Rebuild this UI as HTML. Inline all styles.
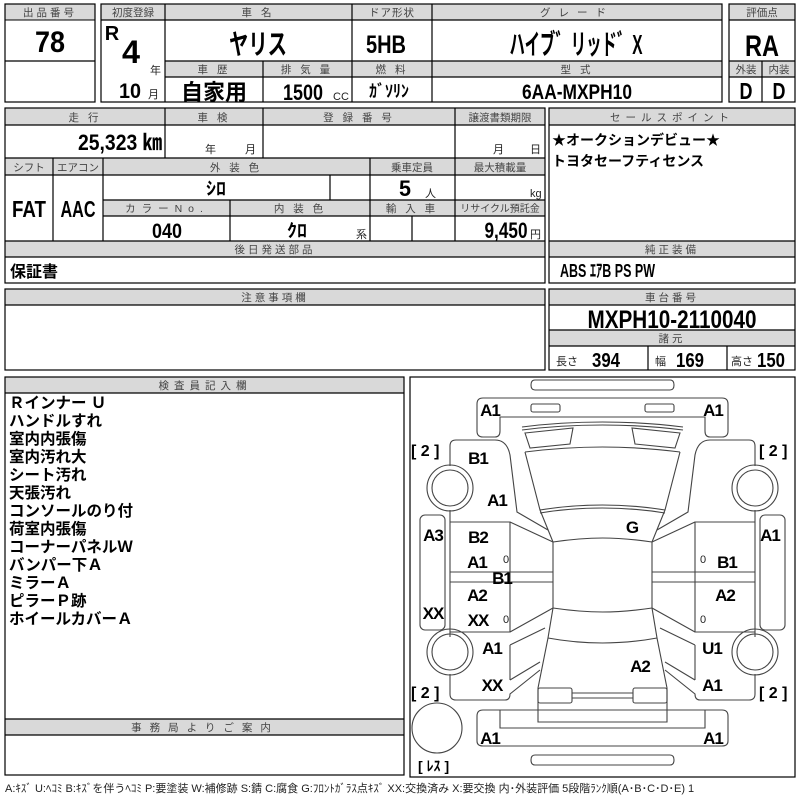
<!DOCTYPE html>
<html><head><meta charset="utf-8">
<style>
html,body{margin:0;padding:0;background:#fff;}
svg{display:block;}
.h{fill:#d9d9d9;stroke:#000;stroke-width:1}
.b{fill:none;stroke:#000;stroke-width:1.2}
.ht{font-family:"Liberation Sans","Noto Sans CJK JP",sans-serif;font-size:10.5px;fill:#444;text-anchor:middle;letter-spacing:3px}
.v{font-family:"Liberation Sans","Noto Sans CJK JP",sans-serif;font-weight:bold;fill:#000;text-anchor:middle}
.j{font-family:"Liberation Sans","Noto Sans CJK JP",sans-serif;font-weight:bold;fill:#000}
.s{font-family:"Liberation Sans","Noto Sans CJK JP",sans-serif;font-size:11px;fill:#222}
.d{fill:none;stroke:#444;stroke-width:1.1}
.lb{font-family:"Liberation Sans","Noto Sans CJK JP",sans-serif;font-weight:bold;font-size:17px;fill:#000;text-anchor:middle;letter-spacing:-1px}
</style></head><body>
<svg width="800" height="800" viewBox="0 0 800 800" xmlns="http://www.w3.org/2000/svg">
<!-- 出品番号 -->
<rect class="h" x="5" y="4" width="90" height="16"/>
<text class="ht" x="50" y="16">出品番号</text>
<rect class="b" x="5" y="4" width="90" height="98"/>
<line class="b" x1="5" y1="61" x2="95" y2="61"/>
<text class="v" x="50" y="52" font-size="30" textLength="30" lengthAdjust="spacingAndGlyphs">78</text>

<!-- main top box -->
<rect class="h" x="101" y="4" width="621" height="16"/>
<rect class="h" x="165" y="61" width="557" height="16"/>
<rect class="b" x="101" y="4" width="621" height="98"/>
<line class="b" x1="165" y1="4" x2="165" y2="102"/>
<line class="b" x1="352" y1="4" x2="352" y2="102"/>
<line class="b" x1="432" y1="4" x2="432" y2="102"/>
<line class="b" x1="263" y1="61" x2="263" y2="102"/>
<line class="b" x1="165" y1="61" x2="722" y2="61"/>
<line class="b" x1="165" y1="77" x2="722" y2="77"/>
<line class="b" x1="101" y1="20" x2="722" y2="20"/>
<text class="ht" x="133" y="16" style="letter-spacing:0">初度登録</text>
<text class="ht" x="258" y="16">車 名</text>
<text class="ht" x="392" y="16" style="letter-spacing:1px">ドア形状</text>
<text class="ht" x="577" y="16" style="letter-spacing:8px">グレード</text>
<text class="ht" x="214" y="73">車 歴</text>
<text class="ht" x="307" y="73">排 気 量</text>
<text class="ht" x="392" y="73">燃 料</text>
<text class="ht" x="577" y="73">型 式</text>
<text class="v" x="112" y="40" font-size="20">R</text>
<text class="v" x="131" y="63" font-size="32" textLength="18" lengthAdjust="spacingAndGlyphs">4</text>
<text class="s" x="150" y="74">年</text>
<text class="v" x="130" y="98" font-size="21" textLength="22" lengthAdjust="spacingAndGlyphs">10</text>
<text class="s" x="148" y="98">月</text>
<text class="v" x="258" y="54" font-size="28" textLength="58" lengthAdjust="spacingAndGlyphs">ヤリス</text>
<text class="v" x="386" y="53" font-size="25" textLength="40" lengthAdjust="spacingAndGlyphs">5HB</text>
<text class="v" x="576" y="54" font-size="28" textLength="133" lengthAdjust="spacingAndGlyphs">ハイブ゛リッド゛X</text>
<text class="j" x="214" y="100" font-size="22" style="text-anchor:middle">自家用</text>
<text class="v" x="303" y="100" font-size="22" textLength="40" lengthAdjust="spacingAndGlyphs">1500</text>
<text class="s" x="333" y="100">CC</text>
<text class="v" x="389" y="97" font-size="17" textLength="40" lengthAdjust="spacingAndGlyphs">ｶﾞｿﾘﾝ</text>
<text class="v" x="577" y="99" font-size="21" textLength="110" lengthAdjust="spacingAndGlyphs">6AA-MXPH10</text>

<!-- 評価点 -->
<rect class="h" x="729" y="4" width="66" height="16"/>
<rect class="h" x="729" y="61" width="66" height="16"/>
<rect class="b" x="729" y="4" width="66" height="98"/>
<line class="b" x1="729" y1="20" x2="795" y2="20"/>
<line class="b" x1="729" y1="61" x2="795" y2="61"/>
<line class="b" x1="729" y1="77" x2="795" y2="77"/>
<line class="b" x1="762" y1="61" x2="762" y2="102"/>
<text class="ht" x="762" y="16" style="letter-spacing:0">評価点</text>
<text class="v" x="762" y="56" font-size="30" textLength="34" lengthAdjust="spacingAndGlyphs">RA</text>
<text class="ht" x="746" y="73" style="letter-spacing:0">外装</text>
<text class="ht" x="779" y="73" style="letter-spacing:0">内装</text>
<text class="v" x="746" y="99" font-size="23" textLength="13" lengthAdjust="spacingAndGlyphs">D</text>
<text class="v" x="779" y="99" font-size="23" textLength="13" lengthAdjust="spacingAndGlyphs">D</text>

<!-- row 2 -->
<rect class="h" x="5" y="108" width="540" height="17"/>
<rect class="h" x="5" y="158" width="540" height="17"/>
<rect class="h" x="103" y="200" width="442" height="16"/>
<rect class="h" x="5" y="241" width="540" height="16"/>
<rect class="b" x="5" y="108" width="540" height="175"/>
<line class="b" x1="5" y1="125" x2="545" y2="125"/>
<line class="b" x1="5" y1="158" x2="545" y2="158"/>
<line class="b" x1="5" y1="175" x2="545" y2="175"/>
<line class="b" x1="103" y1="200" x2="545" y2="200"/>
<line class="b" x1="103" y1="216" x2="545" y2="216"/>
<line class="b" x1="5" y1="241" x2="545" y2="241"/>
<line class="b" x1="5" y1="257" x2="545" y2="257"/>
<line class="b" x1="165" y1="108" x2="165" y2="158"/>
<line class="b" x1="263" y1="108" x2="263" y2="158"/>
<line class="b" x1="455" y1="108" x2="455" y2="241"/>
<line class="b" x1="53" y1="158" x2="53" y2="241"/>
<line class="b" x1="103" y1="158" x2="103" y2="241"/>
<line class="b" x1="370" y1="158" x2="370" y2="241"/>
<line class="b" x1="330" y1="175" x2="330" y2="200"/>
<line class="b" x1="230" y1="200" x2="230" y2="241"/>
<line class="b" x1="412" y1="216" x2="412" y2="241"/>
<text class="ht" x="85" y="121">走 行</text>
<text class="ht" x="214" y="121">車 検</text>
<text class="ht" x="359" y="121">登 録 番 号</text>
<text class="ht" x="500" y="121" style="letter-spacing:0">譲渡書類期限</text>
<text class="v" x="120" y="150" font-size="22" textLength="84" lengthAdjust="spacingAndGlyphs">25,323 ㎞</text>
<text class="s" x="205" y="153">年</text>
<text class="s" x="245" y="153">月</text>
<text class="s" x="493" y="153">月</text>
<text class="s" x="530" y="153">日</text>
<text class="ht" x="29" y="171" style="letter-spacing:0">シフト</text>
<text class="ht" x="78" y="171" style="letter-spacing:0">エアコン</text>
<text class="ht" x="236" y="171">外 装 色</text>
<text class="ht" x="412" y="171" style="letter-spacing:0">乗車定員</text>
<text class="ht" x="500" y="171" style="letter-spacing:0">最大積載量</text>
<text class="v" x="29" y="217" font-size="23" textLength="34" lengthAdjust="spacingAndGlyphs">FAT</text>
<text class="v" x="78" y="217" font-size="23" textLength="35" lengthAdjust="spacingAndGlyphs">AAC</text>
<text class="v" x="216" y="195" font-size="18" textLength="20" lengthAdjust="spacingAndGlyphs">ｼﾛ</text>
<text class="v" x="405" y="196" font-size="22" textLength="12" lengthAdjust="spacingAndGlyphs">5</text>
<text class="s" x="425" y="197">人</text>
<text class="s" x="530" y="197">kg</text>
<text class="ht" x="167" y="212" style="letter-spacing:6px">カラーNo.</text>
<text class="ht" x="300" y="212">内 装 色</text>
<text class="ht" x="412" y="212">輸 入 車</text>
<text class="ht" x="500" y="212" style="letter-spacing:0;font-size:10px">リサイクル預託金</text>
<text class="v" x="167" y="238" font-size="21" textLength="30" lengthAdjust="spacingAndGlyphs">040</text>
<text class="v" x="297" y="237" font-size="18" textLength="20" lengthAdjust="spacingAndGlyphs">ｸﾛ</text>
<text class="s" x="356" y="238">系</text>
<text class="v" x="506" y="238" font-size="22" textLength="43" lengthAdjust="spacingAndGlyphs">9,450</text>
<text class="s" x="530" y="238">円</text>
<text class="ht" x="275" y="253">後日発送部品</text>
<text class="j" x="10" y="277" font-size="16">保証書</text>

<!-- sales point -->
<rect class="h" x="549" y="108" width="246" height="17"/>
<rect class="h" x="549" y="241" width="246" height="16"/>
<rect class="b" x="549" y="108" width="246" height="175"/>
<line class="b" x1="549" y1="125" x2="795" y2="125"/>
<line class="b" x1="549" y1="241" x2="795" y2="241"/>
<line class="b" x1="549" y1="257" x2="795" y2="257"/>
<text class="ht" x="672" y="121" style="letter-spacing:5px">セールスポイント</text>
<text class="j" x="552" y="145" font-size="14">★オークションデビュー★</text>
<text class="j" x="552" y="166" font-size="14">トヨタセーフティセンス</text>
<text class="ht" x="672" y="253">純正装備</text>
<text class="v" x="560" y="277" font-size="18" style="text-anchor:start" textLength="95" lengthAdjust="spacingAndGlyphs">ABS ｴｱB PS PW</text>

<!-- 注意事項 -->
<rect class="h" x="5" y="289" width="540" height="16"/>
<rect class="b" x="5" y="289" width="540" height="81"/>
<line class="b" x1="5" y1="305" x2="545" y2="305"/>
<text class="ht" x="275" y="301">注意事項欄</text>

<!-- 車台番号 -->
<rect class="h" x="549" y="289" width="246" height="16"/>
<rect class="h" x="549" y="330" width="246" height="16"/>
<rect class="b" x="549" y="289" width="246" height="81"/>
<line class="b" x1="549" y1="305" x2="795" y2="305"/>
<line class="b" x1="549" y1="330" x2="795" y2="330"/>
<line class="b" x1="549" y1="346" x2="795" y2="346"/>
<line class="b" x1="648" y1="346" x2="648" y2="370"/>
<line class="b" x1="727" y1="346" x2="727" y2="370"/>
<text class="ht" x="672" y="301">車台番号</text>
<text class="v" x="672" y="328" font-size="25" textLength="169" lengthAdjust="spacingAndGlyphs">MXPH10-2110040</text>
<text class="ht" x="672" y="342">諸元</text>
<text class="s" x="556" y="365">長さ</text><text class="v" x="606" y="367" font-size="20" textLength="28" lengthAdjust="spacingAndGlyphs">394</text>
<text class="s" x="655" y="365">幅</text><text class="v" x="690" y="367" font-size="20" textLength="28" lengthAdjust="spacingAndGlyphs">169</text>
<text class="s" x="731" y="365">高さ</text><text class="v" x="771" y="367" font-size="20" textLength="28" lengthAdjust="spacingAndGlyphs">150</text>

<!-- 検査員記入欄 -->
<rect class="h" x="5" y="377" width="399" height="16"/>
<rect class="h" x="5" y="719" width="399" height="16"/>
<rect class="b" x="5" y="377" width="399" height="398"/>
<line class="b" x1="5" y1="393" x2="404" y2="393"/>
<line class="b" x1="5" y1="719" x2="404" y2="719"/>
<line class="b" x1="5" y1="735" x2="404" y2="735"/>
<text class="ht" x="205" y="389" style="letter-spacing:5px">検査員記入欄</text>
<text class="ht" x="205" y="731" style="letter-spacing:8px">事務局よりご案内</text>
<g class="j" font-size="15.5">
<text x="9" y="408">Ｒインナー Ｕ</text>
<text x="9" y="426">ハンドルすれ</text>
<text x="9" y="444">室内内張傷</text>
<text x="9" y="462">室内汚れ大</text>
<text x="9" y="480">シート汚れ</text>
<text x="9" y="498">天張汚れ</text>
<text x="9" y="516">コンソールのり付</text>
<text x="9" y="534">荷室内張傷</text>
<text x="9" y="552">コーナーパネルＷ</text>
<text x="9" y="570">バンパー下Ａ</text>
<text x="9" y="588">ミラーＡ</text>
<text x="9" y="606">ピラーＰ跡</text>
<text x="9" y="624">ホイールカバーＡ</text>
</g>

<!-- diagram -->
<rect class="b" x="410" y="377" width="385" height="400"/>
<g id="half">
<path class="d" d="M603 380 H535 Q531 380 531 385 Q531 390 535 390 H603"/>
<path class="d" d="M603 398 H483 Q477 398 477 404 V431 Q477 437 483 437 H495 Q500 437 500 431 V417 H603"/>
<rect class="d" x="531" y="404" width="29" height="8" rx="2"/>
<path class="d" d="M522 427 Q560 422 603 422 M522 430 Q560 425 603 425"/>
<path class="d" d="M525 433 L573 428 L570 444 L530 448 Z"/>
<path class="d" d="M525 452 Q565 447 603 447 M525 452 L540 510 Q570 505 603 505 M540 513 Q570 508 603 508 M540 510 L553 542 Q580 538 603 538"/>
<path class="d" d="M553 542 V608 Q580 612 603 612 M553 608 L548 638 Q575 643 603 643 M548 638 L538 688 V722 H603"/>
<rect class="d" x="538" y="688" width="34" height="15" rx="2"/>
<path class="d" d="M572 693 H603 M572 698 H603"/>
<path class="d" d="M450 466 V446 Q450 440 456 440 H495 Q507 440 510 455 L517 512 L548 530"/>
<circle class="d" cx="450" cy="488" r="23"/><circle class="d" cx="450" cy="488" r="18"/>
<rect class="d" x="420" y="515" width="25" height="115" rx="5"/>
<path class="d" d="M450 510 V632 H510 V522 H450 M510 522 L553 542 M450 572 H553 M450 582 H553 M510 632 L553 608"/>
<path class="d" d="M510 645 L545 628 M510 680 L540 662 M510 645 V680"/>
<circle class="d" cx="450" cy="652" r="23"/><circle class="d" cx="450" cy="652" r="18"/>
<path class="d" d="M450 637 V632 M450 674 V694 Q450 700 456 700 H505 Q510 700 510 694 L540 670"/>
<path class="d" d="M603 710 H483 Q477 710 477 716 V741 Q477 746 483 746 H603 M500 710 V728 H603"/>
<path class="d" d="M603 755 H535 Q531 755 531 760 Q531 765 535 765 H603"/>
</g>
<use href="#half" transform="translate(1205,0) scale(-1,1)"/>
<circle class="d" cx="437" cy="728" r="25"/>
<g class="lb">
<text x="490" y="416">A1</text><text x="713" y="416">A1</text>
<text x="478" y="464">B1</text><text x="497" y="506">A1</text>
<text x="433" y="541">A3</text><text x="478" y="543">B2</text>
<text x="632" y="533">G</text><text x="770" y="541">A1</text>
<text x="477" y="568">A1</text><text x="727" y="568">B1</text>
<text x="502" y="584">B1</text>
<text x="477" y="601">A2</text><text x="725" y="601">A2</text>
<text x="433" y="619">XX</text><text x="478" y="626">XX</text>
<text x="492" y="654">A1</text><text x="712" y="654">U1</text>
<text x="640" y="672">A2</text>
<text x="492" y="691">XX</text><text x="712" y="691">A1</text>
<text x="490" y="744">A1</text><text x="713" y="744">A1</text>
</g>
<g class="s" font-size="12">
<text x="503" y="563">0</text><text x="700" y="563">0</text>
<text x="503" y="623">0</text><text x="700" y="623">0</text>
</g>
<g class="j" font-size="16">
<text x="411" y="456">[ 2 ]</text><text x="759" y="456">[ 2 ]</text>
<text x="411" y="698">[ 2 ]</text><text x="759" y="698">[ 2 ]</text>
<text x="418" y="771" font-size="14">[ ﾚｽ ]</text>
</g>
<text class="s" x="5" y="792" font-size="9.5">A:ｷｽﾞ U:ﾍｺﾐ B:ｷｽﾞを伴うﾍｺﾐ P:要塗装 W:補修跡 S:錆 C:腐食 G:ﾌﾛﾝﾄｶﾞﾗｽ点ｷｽﾞ XX:交換済み X:要交換 内･外装評価 5段階ﾗﾝｸ順(A･B･C･D･E) 1</text>
</svg>
</body></html>
